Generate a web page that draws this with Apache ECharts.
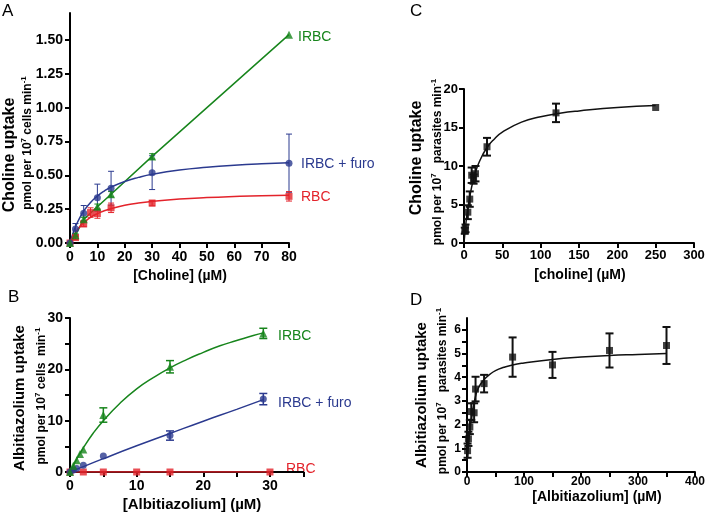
<!DOCTYPE html>
<html><head><meta charset="utf-8">
<script src="https://cdn.jsdelivr.net/npm/echarts@6/dist/echarts.min.js"></script>
<style>html,body{margin:0;padding:0;background:#fff}#c{width:709px;height:512px}</style>
</head><body><div id="c"></div>
<script>
// ---------- Panel A : choline uptake by erythrocytes ----------
const aX        = [0, 2, 5, 10, 15, 30, 80];
const aIrbc     = [0, 0.058, 0.175, 0.268, 0.36, 0.64, 1.54];
const aIrbcErr  = [0, 0.01, 0.015, 0.02, 0.02, 0.02, 0];
const aFuro     = [0, 0.104, 0.22, 0.335, 0.405, 0.52, 0.59];
const aFuroErr  = [0, 0.04, 0.057, 0.10, 0.125, 0.125, 0.215];
const aRbcX     = [0, 2, 5, 7.5, 10, 15, 30, 80];
const aRbc      = [0, 0.04, 0.141, 0.225, 0.218, 0.26, 0.295, 0.345];
const aRbcErr   = [0, 0.015, 0.02, 0.035, 0.035, 0.035, 0.02, 0.035];
const aCurveX   = [0, 1, 2, 3.5, 5, 7.5, 10, 12.5, 15, 20, 25, 30, 40, 50, 60, 70, 80];
const aFuroFit  = [0, 0.066, 0.12, 0.184, 0.236, 0.300, 0.347, 0.384, 0.413, 0.455, 0.485, 0.508, 0.539, 0.559, 0.574, 0.585, 0.593];
const aRbcFit   = [0, 0.043, 0.078, 0.119, 0.150, 0.189, 0.217, 0.238, 0.254, 0.279, 0.296, 0.308, 0.325, 0.336, 0.344, 0.350, 0.353];
const aYLabels  = [0, 0.25, 0.5, 0.75, 1.0, 1.25, 1.5];

// ---------- Panel B : albitiazolium uptake by erythrocytes ----------
const bIrbcX    = [0, 0.5, 1, 1.5, 2, 5, 15, 29];
const bIrbc     = [0, 1.2, 2.3, 3.5, 4.4, 11.1, 20.5, 27.0];
const bIrbcErr  = [0, 0, 0, 0, 0, 1.4, 1.2, 1.0];
const bFuroX    = [0, 0.5, 1, 2, 5, 15, 29];
const bFuro     = [0, 0.4, 0.7, 1.3, 3.1, 7.1, 14.2];
const bFuroErr  = [0, 0, 0, 0, 0, 0.9, 1.1];
const bRbcX     = [0, 2, 5, 10, 15, 30];
const bRbc      = [0, 0, 0, 0, 0, 0];
const bIrbcFitX = [0, 1, 2, 3.5, 5, 7.5, 10, 12.5, 15, 17.5, 20, 22.5, 25, 27.5, 29];
const bIrbcFit  = [0, 2.5, 4.7, 7.6, 10.0, 13.4, 16.2, 18.4, 20.3, 21.9, 23.3, 24.6, 25.6, 26.6, 27.1];
const bFuroFitX = [0, 2, 5, 10, 15, 20, 25, 29];
const bFuroFit  = [0, 1.05, 2.6, 5.1, 7.5, 9.9, 12.2, 14.1];
const bRbcFitX  = [0, 30];
const bRbcFit   = [0, 0];
const bXLabels  = [0, 10, 20, 30];
const bXTicks   = [0, 5, 10, 15, 20, 25, 30, 35];
const bYLabels  = [0, 10, 20, 30];
const bYTicks   = [0, 5, 10, 15, 20, 25, 30];

// ---------- Panel C : choline uptake by isolated parasites ----------
const cX        = [1, 2, 5, 7.5, 10, 12.5, 15, 30, 120, 250];
const cY        = [1.6, 1.9, 4.0, 5.7, 8.8, 8.3, 9.0, 12.5, 16.9, 17.6];
const cErr      = [0.4, 0.5, 0.9, 1.0, 1.0, 0.6, 1.0, 1.15, 1.2, 0];
const cFitX     = [0, 2, 5, 10, 15, 20, 30, 40, 50, 75, 100, 125, 150, 200, 250];
const cFit      = [0, 2.1, 4.5, 7.3, 9.2, 10.55, 12.4, 13.55, 14.4, 15.7, 16.4, 16.85, 17.15, 17.6, 17.85];

// ---------- Panel D : albitiazolium uptake by isolated parasites ----------
const dX        = [1, 2.5, 5, 7.5, 12.5, 15, 30, 80, 150, 250, 350];
const dY        = [0.9, 1.4, 1.9, 2.55, 2.5, 3.5, 3.73, 4.85, 4.52, 5.13, 5.34];
const dErr      = [0.3, 0.3, 0.3, 0.35, 0.4, 0.52, 0.37, 0.83, 0.55, 0.72, 0.78];
const dFitX     = [0, 2, 5, 10, 15, 20, 30, 40, 50, 65, 80, 100, 150, 200, 250, 300, 350];
const dFit      = [0.5, 1.0, 1.75, 2.6, 3.2, 3.55, 3.9, 4.12, 4.28, 4.42, 4.52, 4.6, 4.75, 4.85, 4.92, 4.96, 5.0];
const dXLabels  = [0, 100, 200, 300, 400];
const dXTicks   = [0, 50, 100, 150, 200, 250, 300, 350, 400];
const dYLabels  = [0, 1, 2, 3, 4, 5, 6];
const dYTicks   = [0, 0.5, 1, 1.5, 2, 2.5, 3, 3.5, 4, 4.5, 5, 5.5, 6];

// ---------- styling ----------
const GREEN = '#17851c', BLUE = '#2b3a8f', RED = '#e3232b', BLACK = '#111111';
const FONT = '"Liberation Sans", Arial, sans-serif';

function pts(xs, ys) { return xs.map((x, i) => [x, ys[i]]); }
function errs(xs, ys, es) {
  const out = [];
  xs.forEach((x, i) => { if (es[i] > 0) out.push([x, ys[i] - es[i], ys[i] + es[i]]); });
  return out;
}
function errSeries(idx, data, color, cap, lw) {
  return {
    type: 'custom', xAxisIndex: idx, yAxisIndex: idx, data, z: 3, silent: true,
    encode: { x: 0, y: [1, 2] },
    renderItem: (params, api) => {
      const x = api.value(0), lo = api.value(1), hi = api.value(2);
      const a = api.coord([x, hi]), b = api.coord([x, lo]);
      const st = { stroke: color, lineWidth: lw };
      return { type: 'group', children: [
        { type: 'line', shape: { x1: a[0], y1: a[1], x2: b[0], y2: b[1] }, style: st },
        { type: 'line', shape: { x1: a[0] - cap, y1: a[1], x2: a[0] + cap, y2: a[1] }, style: st },
        { type: 'line', shape: { x1: b[0] - cap, y1: b[1], x2: b[0] + cap, y2: b[1] }, style: st }
      ]};
    }
  };
}
function curve(idx, xs, ys, color, width, smooth) {
  return { type: 'line', xAxisIndex: idx, yAxisIndex: idx, data: pts(xs, ys),
    smooth: smooth, symbol: 'none', lineStyle: { color, width }, z: 2, silent: true, animation: false };
}
function marks(idx, xs, ys, color, symbol, size) {
  return { type: 'scatter', xAxisIndex: idx, yAxisIndex: idx, data: pts(xs, ys),
    symbol, symbolSize: size, itemStyle: { color }, z: 4, silent: true, animation: false };
}

const axLine = { show: true, onZero: false, lineStyle: { color: '#000', width: 2 } };
const axTick = { show: true, length: 5, lineStyle: { color: '#000', width: 2 } };

function axis(idx, max, interval, labels, ticks, fs, margin, fmt) {
  const ax = { type: 'value', gridIndex: idx, min: 0, max, interval, axisLine: axLine,
    axisTick: Object.assign({}, axTick),
    axisLabel: { margin: margin, color: '#000', fontFamily: FONT, fontWeight: 'bold', fontSize: fs },
    splitLine: { show: false } };
  if (labels) ax.axisLabel.customValues = labels;
  if (ticks) ax.axisTick.customValues = ticks;
  if (fmt) ax.axisLabel.formatter = fmt;
  return ax;
}

function txt(x, y, text, size, color, align, weight) {
  return { type: 'text', x, y, silent: true,
    style: { text, font: `${weight || 'normal'} ${size}px ${FONT}`, fill: color,
      align: align, verticalAlign: 'middle', textAlign: align, textVerticalAlign: 'middle' } };
}
function ytitle(x, y, text, size) {
  return { type: 'text', x, y, rotation: Math.PI / 2, silent: true,
    style: { text, font: `bold ${size}px ${FONT}`, fill: '#000',
      align: 'center', verticalAlign: 'middle', textAlign: 'center', textVerticalAlign: 'middle' } };
}
function yunits(x, y, text) {
  return { type: 'text', x, y, rotation: Math.PI / 2, silent: true,
    style: { text, fill: '#000', align: 'center', verticalAlign: 'middle', textAlign: 'center', textVerticalAlign: 'middle',
      rich: {
        a: { fontFamily: FONT, fontWeight: 'bold', fontSize: 12, lineHeight: 17, fill: '#000' },
        s: { fontFamily: FONT, fontWeight: 'bold', fontSize: 8, verticalAlign: 'top', fill: '#000' }
      } } };
}

const option = {
  animation: false,
  backgroundColor: '#ffffff',
  grid: [
    { left: 70, top: 13, width: 219, height: 230, containLabel: false, outerBoundsMode: 'none' },
    { left: 70, top: 318, width: 233.3, height: 154, containLabel: false, outerBoundsMode: 'none' },
    { left: 464, top: 89, width: 230, height: 154, containLabel: false, outerBoundsMode: 'none' },
    { left: 467, top: 318, width: 228, height: 154, containLabel: false, outerBoundsMode: 'none' }
  ],
  xAxis: [
    axis(0, 80, 10, null, null, 14, 7),
    axis(1, 35, 5, bXLabels, bXTicks, 14, 7),
    axis(2, 300, 50, null, null, 13, 6),
    axis(3, 400, 50, dXLabels, dXTicks, 12, 4)
  ],
  yAxis: [
    axis(0, 1.7, 0.25, aYLabels, aYLabels, 14, 7, v => v.toFixed(2)),
    axis(1, 30, 5, bYLabels, bYTicks, 14, 7),
    axis(2, 20, 5, null, null, 13, 6),
    axis(3, 6.5, 0.5, dYLabels, dYTicks, 12, 6)
  ],
  series: [
    // A
    errSeries(0, errs(aX, aFuro, aFuroErr), BLUE, 3, 1),
    errSeries(0, errs(aRbcX, aRbc, aRbcErr), RED, 3, 1),
    errSeries(0, errs(aX, aIrbc, aIrbcErr), GREEN, 3, 1),
    curve(0, aX, aIrbc, GREEN, 1.5, false),
    curve(0, aCurveX, aFuroFit, BLUE, 1.5, true),
    curve(0, aCurveX, aRbcFit, RED, 1.5, true),
    marks(0, aRbcX, aRbc, RED, 'rect', 7),
    marks(0, aX, aFuro, BLUE, 'circle', 7),
    marks(0, aX, aIrbc, GREEN, 'triangle', 8),
    // B
    errSeries(1, errs(bIrbcX, bIrbc, bIrbcErr), GREEN, 4, 1.5),
    errSeries(1, errs(bFuroX, bFuro, bFuroErr), BLUE, 4, 1.5),
    curve(1, bIrbcFitX, bIrbcFit, GREEN, 1.5, true),
    curve(1, bFuroFitX, bFuroFit, BLUE, 1.5, true),
    curve(1, bRbcFitX, bRbcFit, RED, 1.5, false),
    marks(1, bRbcX, bRbc, RED, 'rect', 7),
    marks(1, bFuroX, bFuro, BLUE, 'circle', 7),
    marks(1, bIrbcX, bIrbc, GREEN, 'triangle', 8),
    // C
    errSeries(2, errs(cX, cY, cErr), BLACK, 4, 2),
    curve(2, cFitX, cFit, BLACK, 1.5, true),
    marks(2, cX, cY, BLACK, 'rect', 7),
    // D
    errSeries(3, errs(dX, dY, dErr), BLACK, 4, 2),
    curve(3, dFitX, dFit, BLACK, 1.5, true),
    marks(3, dX, dY, BLACK, 'rect', 7)
  ],
  graphic: [
    txt(2, 11, 'A', 17, '#000', 'left'),
    txt(8, 297, 'B', 17, '#000', 'left'),
    txt(410, 11, 'C', 17, '#000', 'left'),
    txt(410, 300, 'D', 17, '#000', 'left'),
    ytitle(10, 155, 'Choline uptake', 16),
    yunits(28, 143, '{a|pmol per 10}{s|7}{a| cells min}{s|-1}'),
    ytitle(20, 398, 'Albitiazolium uptake', 15),
    yunits(42, 396, '{a|pmol per 10}{s|7}{a| cells  min}{s|-1}'),
    ytitle(417, 158, 'Choline uptake', 16),
    yunits(438, 162, '{a|pmol per 10}{s|7}{a|   parasites min}{s|-1}'),
    ytitle(422, 395, 'Albitiazolium uptake', 15),
    yunits(443, 391, '{a|pmol per 10}{s|7}{a|   parasites min}{s|-1}'),
    txt(180, 276, '[Choline] (µM)', 14, '#000', 'center', 'bold'),
    txt(192, 505, '[Albitiazolium] (µM)', 15, '#000', 'center', 'bold'),
    txt(580, 275, '[choline] (µM)', 14, '#000', 'center', 'bold'),
    txt(597, 497, '[Albitiazolium] (µM)', 14, '#000', 'center', 'bold'),
    txt(298, 37, 'IRBC', 14, GREEN, 'left'),
    txt(301, 164, 'IRBC + furo', 14, BLUE, 'left'),
    txt(301, 197, 'RBC', 14, RED, 'left'),
    txt(278, 336, 'IRBC', 14, GREEN, 'left'),
    txt(278, 403, 'IRBC + furo', 14, BLUE, 'left'),
    txt(286, 469, 'RBC', 14, RED, 'left')
  ]
};
const chart = echarts.init(document.getElementById('c'), null, { renderer: 'canvas' });
chart.setOption(option);
</script></body></html>
